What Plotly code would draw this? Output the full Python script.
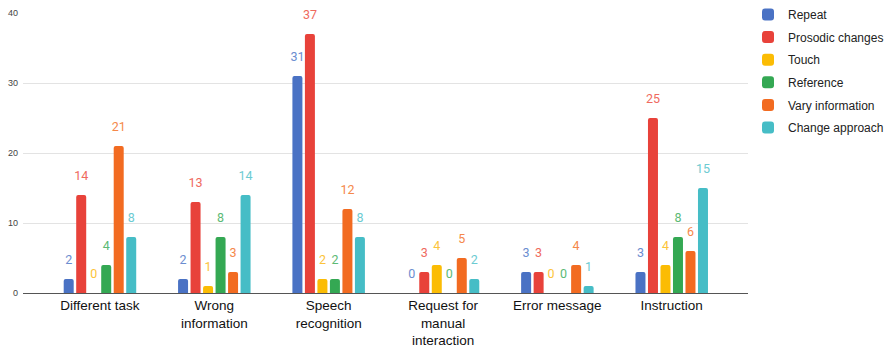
import plotly.graph_objects as go

categories = ["Different task", "Wrong<br>information", "Speech<br>recognition",
              "Request for<br>manual<br>interaction", "Error message", "Instruction"]
series_names = ["Repeat", "Prosodic changes", "Touch", "Reference", "Vary information", "Change approach"]
repeat = [2, 2, 31, 0, 3, 3]
prosodic = [14, 13, 37, 3, 3, 25]
touch = [0, 1, 2, 4, 0, 4]
reference = [4, 8, 2, 0, 0, 8]
vary = [21, 3, 12, 5, 4, 6]
change = [8, 14, 8, 2, 1, 15]
colors = ["#4a72c4", "#e8423a", "#fbbc04", "#34a853", "#f26b21", "#46bdc6"]
label_colors = ["#6b8dd0", "#ef6a5e", "#fcc43a", "#5cba75", "#f5884a", "#6ccbd2"]
y_ticks = [0, 10, 20, 30, 40]

values = [repeat, prosodic, touch, reference, vary, change]

fig = go.Figure()
for name, vals, col, lcol in zip(series_names, values, colors, label_colors):
    fig.add_trace(go.Bar(
        x=categories, y=vals, name=name, marker_color=col,
        marker_line_width=0,
        text=[f"<span style='font-size:12.5px'>{v}</span><br>&nbsp;" for v in vals],
        textposition="outside", constraintext="none",
        textfont=dict(color=lcol, size=8, family="Roboto"),
        cliponaxis=False, legendgroup=name,
    ))

fig.update_layout(
    width=894, height=352,
    margin=dict(l=23, r=146, t=13, b=59, autoexpand=False),
    paper_bgcolor="white", plot_bgcolor="white",
    barmode="group", bargap=0.344, bargroupgap=0.2, barcornerradius=2,
    font=dict(family="Liberation Sans, Arial", color="#222"),
    showlegend=True,
    legend=dict(x=748 / 894, y=1.0, xref="container", yref="container",
                xanchor="left", yanchor="top",
                font=dict(size=12, color="#222", family="Liberation Sans, Arial"),
                tracegroupgap=3.6, bgcolor="rgba(0,0,0,0)"),
)
fig.update_yaxes(range=[0, 40], tickvals=y_ticks, showgrid=True, gridcolor="#e3e3e3",
                 zeroline=False, tickfont=dict(size=9, color="#444"), ticks="",
                 showline=False, automargin=False, ticklabelstandoff=4)
fig.update_xaxes(range=[-0.673, 5.667], tickfont=dict(size=13.5, color="#111"),
                 showline=True, linecolor="#555", linewidth=1, ticks="", showgrid=False,
                 automargin=False)

fig.write_html("out.html", config={"displayModeBar": False},
               post_script="document.body.style.margin='0px';")
